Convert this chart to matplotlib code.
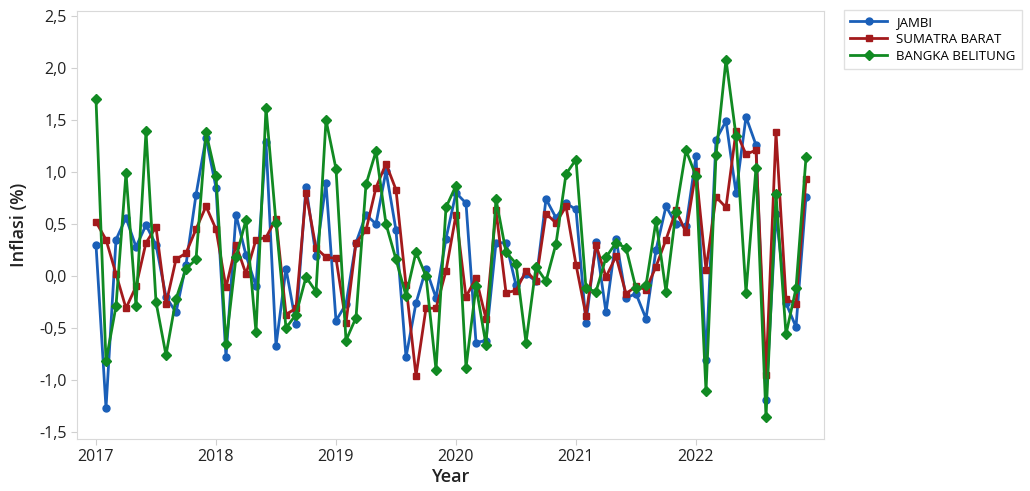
import matplotlib.pyplot as plt

plt.rcParams['font.family'] = ['Open Sans', 'DejaVu Sans']

# monthly inflation, Jan 2017 - Dec 2022
jambi = [0.30, -1.27, 0.35, 0.56, 0.28, 0.49, 0.30, -0.20, -0.35, 0.11, 0.78, 1.33,
         0.85, -0.78, 0.59, 0.20, -0.10, 1.29, -0.67, 0.07, -0.46, 0.86, 0.19, 0.89,
         -0.43, -0.27, 0.32, 0.59, 0.50, 1.01, 0.44, -0.78, -0.26, 0.07, -0.21, 0.36,
         0.80, 0.70, -0.64, -0.62, 0.32, 0.32, -0.09, 0.02, -0.05, 0.74, 0.56, 0.70,
         0.64, -0.45, 0.33, -0.35, 0.36, -0.21, -0.17, -0.41, 0.25, 0.67, 0.50, 0.48,
         1.15, -0.81, 1.31, 1.49, 0.80, 1.53, 1.26, -1.19, 0.60, -0.26, -0.49, 0.76]
sumbar = [0.52, 0.35, 0.02, -0.31, -0.10, 0.32, 0.47, -0.27, 0.16, 0.22, 0.45, 0.67,
          0.45, -0.11, 0.30, 0.02, 0.35, 0.37, 0.55, -0.37, -0.31, 0.80, 0.27, 0.18,
          0.17, -0.45, 0.32, 0.44, 0.85, 1.08, 0.83, -0.09, -0.96, -0.31, -0.31, 0.05,
          0.59, -0.20, -0.02, -0.41, 0.63, -0.16, -0.14, 0.05, -0.05, 0.60, 0.51, 0.67,
          0.11, -0.38, 0.30, -0.01, 0.19, -0.17, -0.10, -0.13, 0.09, 0.35, 0.63, 0.42,
          1.01, 0.06, 0.76, 0.66, 1.39, 1.17, 1.21, -0.95, 1.38, -0.22, -0.27, 0.93]
babel = [1.70, -0.82, -0.29, 0.99, -0.29, 1.39, -0.25, -0.76, -0.22, 0.07, 0.16, 1.38,
         0.96, -0.65, 0.18, 0.54, -0.54, 1.62, 0.51, -0.50, -0.37, -0.01, -0.15, 1.50,
         1.03, -0.62, -0.40, 0.88, 1.20, 0.50, 0.16, -0.19, 0.23, 0.00, -0.90, 0.66,
         0.87, -0.88, -0.10, -0.66, 0.74, 0.23, 0.12, -0.64, 0.09, -0.05, 0.31, 0.98,
         1.12, -0.12, -0.15, 0.18, 0.32, 0.27, -0.12, -0.09, 0.53, -0.15, 0.62, 1.21,
         0.96, -1.11, 1.16, 2.08, 1.35, -0.16, 1.04, -1.36, 0.79, -0.56, -0.12, 1.14]
years = [2017, 2018, 2019, 2020, 2021, 2022]
yticks = [-1.5, -1.0, -0.5, 0.0, 0.5, 1.0, 1.5, 2.0, 2.5]

months = list(range(len(jambi)))

fig = plt.figure(figsize=(10.3, 4.91), dpi=100)
ax = fig.add_axes([77 / 1030, 52 / 491, 747 / 1030, 428 / 491])

ax.plot(months, jambi, color='#1a5fb8', lw=2, marker='o', ms=5, label='JAMBI')
ax.plot(months, sumbar, color='#a31a1c', lw=2, marker='s', ms=5, label='SUMATRA BARAT')
ax.plot(months, babel, color='#118a22', lw=2, marker='D', ms=5.5, label='BANGKA BELITUNG')

ax.set_xlim(-1.9, 72.8)
ax.set_ylim(-1.567, 2.548)
ax.set_xticks([12 * k for k in range(len(years))])
ax.set_xticklabels([str(y) for y in years])
ax.set_yticks(yticks)
ax.set_yticklabels([('%.1f' % v).replace('.', ',') for v in yticks])
ax.tick_params(labelsize=11.5, colors='#d0d0d0', labelcolor='#222222', length=4)

for s in ax.spines.values():
    s.set_color('#d9d9d9')

ax.set_xlabel('Year', fontsize=13, fontweight='semibold', color='#222222', labelpad=2)
ax.set_ylabel('Inflasi (%)', fontsize=13, fontweight='semibold', color='#222222', labelpad=8)

leg = ax.legend(loc='upper left', bbox_to_anchor=(1.027, 1.003), fontsize=9.5,
                frameon=True, fancybox=False, edgecolor='#d9d9d9',
                handlelength=2.8, handletextpad=0.7, borderpad=0.45,
                labelspacing=0.3, borderaxespad=0)

fig.savefig('out.png', dpi=100)
